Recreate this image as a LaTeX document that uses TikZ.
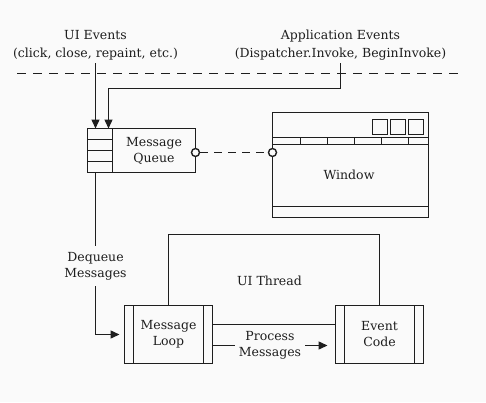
\documentclass[tikz,border=0pt]{standalone}
\usepackage{fontspec}
\setmainfont{DejaVu Serif}
\usetikzlibrary{positioning,arrows.meta,calc}
\definecolor{bg}{RGB}{250,250,250}
\definecolor{ink}{RGB}{30,30,30}
\begin{document}
\begin{tikzpicture}[x=1pt, y=-1pt, node distance=1cm,
	font=\fontsize{12.5}{16}\selectfont, text=ink,
	every path/.style={draw=ink, line width=1.4pt},
	box/.style={draw, fill=bg, inner sep=0pt, outer sep=0pt, align=center},
	proc/.style={box, minimum width=88pt, minimum height=58pt},
	lbl/.style={fill=bg, align=center, inner xsep=3.5pt},
	port/.style={draw, circle, fill=bg, minimum size=8pt, inner sep=0pt},
	arr/.style={-{Triangle[length=9pt,width=8pt]}}]
		\useasboundingbox[fill=bg, draw=none] (0,0) rectangle (486,402);
		
		\node [align=center, anchor=south, inner ysep=2pt] (uiev) at (95.5,63) {UI Events\\[2pt](click, close, repaint, etc.)};
		\node [align=center, anchor=south, inner ysep=2pt] (appev) at (340.5,63) {Application Events\\[2pt](Dispatcher.Invoke, BeginInvoke)};
		\draw[dash pattern=on 9.3pt off 6.7pt]
		(17,73.5) -- (460,73.5);
		
		\node [box, minimum width=83pt, minimum height=44pt] (queue) at (154,150.5) {Message\\Queue};
		\node [box, minimum width=25pt, minimum height=44pt, left=0pt of queue] (stack) {};
		\foreach \i in {1,2,3}
		\draw ($(stack.north west)!\i/4!(stack.south west)$) -- ($(stack.north east)!\i/4!(stack.south east)$);
		
		\node [box, minimum width=156pt, minimum height=105pt] (win) at (350.5,165) {};
		\draw (win.west |- 0,137.5) -- (win.east |- 0,137.5);
		\draw (win.west |- 0,144.5) -- (win.east |- 0,144.5);
		\draw (win.west |- 0,206.5) -- (win.east |- 0,206.5);
		\foreach \x in {300.5,327.5,354.5,381.5,408.5}
		\draw (\x,137.5) -- (\x,144.5);
		\foreach \x in {372.5,390.5,408.5}
		\draw (\x,119.5) rectangle ++(15,15);
		\node (wintxt) at (349,175) {Window};
		
		\node [port] (qport) at (queue.east |- 0,152.5) {};
		\node [port] (wport) at (win.west |- 0,152.5) {};
		\draw[dash pattern=on 8pt off 6pt]
		(qport) -- (wport);
		
		\node [proc] (mloop) at (168.5,334.5) {Message\\Loop};
		\node [proc, right=123pt of mloop] (ecode) {Event\\Code};
		\foreach \n in {mloop,ecode} {
			\draw ([xshift=9pt]\n.north west) -- ([xshift=9pt]\n.south west);
			\draw ([xshift=-9pt]\n.north east) -- ([xshift=-9pt]\n.south east);
		}
		\node (thread) at (269.5,281) {UI Thread};
		
		\draw[arr]
		(uiev.south) -- (uiev.south |- stack.north);
		\coordinate (appbend) at (108.5,88.5);
		\draw[arr]
		(appev.south) |- (appbend) -- (appbend |- stack.north);
		
		\coordinate (deqbend) at ([xshift=-4.5pt]stack.south |- mloop.west);
		\draw[arr]
		([xshift=-4.5pt]stack.south) -- node[lbl, pos=0.578, inner ysep=6pt] {Dequeue\\Messages} (deqbend) -- ([xshift=-5pt]mloop.west);
		
		\draw
		(mloop.north) -- ++(0,-71) -| (ecode.north);
		\draw
		([yshift=10pt]mloop.east) -- ([yshift=10pt]ecode.west);
		\draw[arr]
		([yshift=-11pt]mloop.east) -- node[lbl] {Process\\Messages} ([xshift=-8pt,yshift=-11pt]ecode.west);
		
		\end{tikzpicture}
\end{document}
